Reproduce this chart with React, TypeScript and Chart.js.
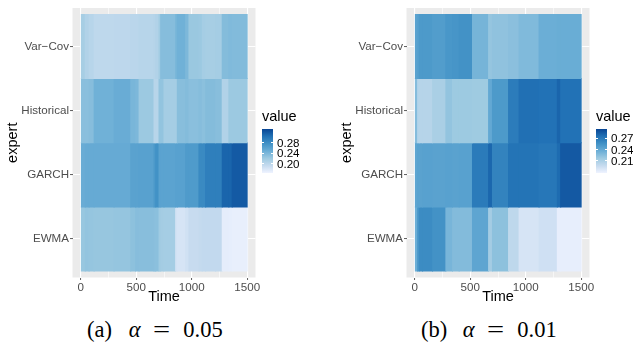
import React, { useEffect, useRef } from "react";
import { Chart, registerables } from "chart.js";

Chart.register(...registerables);

// ---------- data ----------
// row order bottom -> top (y = 1..4)
const EXPERTS = ["EWMA", "GARCH", "Historical", "Var\u2212Cov"];
const X_MAJOR = [0, 500, 1000, 1500];
const X_GRID = [0, 250, 500, 750, 1000, 1250, 1500];
const BLUES = ["#EFF3FF", "#C6DBEF", "#9ECAE1", "#6BAED6", "#4292C6", "#2171B5", "#084594"];

// (a) alpha = 0.05 : time breaks and value per segment
const BREAKS_A = [0, 40, 75, 120, 300, 450, 495, 525, 660, 675, 705, 720, 750, 855, 870, 945, 975, 1065, 1095, 1125, 1215, 1275, 1335, 1365, 1500];
const VARCOV_A = [0.216, 0.209, 0.205, 0.2, 0.201, 0.203, 0.203, 0.205, 0.206, 0.209, 0.219, 0.235, 0.235, 0.242, 0.247, 0.24, 0.224, 0.223, 0.217, 0.216, 0.217, 0.236, 0.238, 0.237];
const HIST_A = [0.233, 0.233, 0.2345, 0.247, 0.251, 0.242, 0.24, 0.223, 0.2045, 0.2045, 0.228, 0.228, 0.217, 0.217, 0.234, 0.236, 0.233, 0.235, 0.232, 0.236, 0.234, 0.209, 0.223, 0.223];
const GARCH_A = [0.251, 0.253, 0.253, 0.253, 0.253, 0.261, 0.261, 0.262, 0.27, 0.277, 0.261, 0.26, 0.26, 0.262, 0.262, 0.268, 0.268, 0.284, 0.284, 0.293, 0.293, 0.312, 0.312, 0.319];
const EWMA_A = [0.225, 0.228, 0.227, 0.226, 0.227, 0.231, 0.2345, 0.234, 0.233, 0.232, 0.221, 0.218, 0.217, 0.186, 0.184, 0.188, 0.194, 0.196, 0.197, 0.197, 0.197, 0.174, 0.173, 0.172];
const LIMITS_A = [0.167, 0.332];
const LEGEND_A = [0.2, 0.24, 0.28];

// (b) alpha = 0.01
const BREAKS_B = [0, 25, 40, 70, 160, 280, 340, 400, 520, 665, 700, 845, 940, 1120, 1285, 1315, 1500];
const VARCOV_B = [0.245, 0.247, 0.251, 0.251, 0.249, 0.253, 0.254, 0.256, 0.233, 0.221, 0.223, 0.225, 0.229, 0.237, 0.238, 0.238];
const HIST_B = [0.227, 0.207, 0.206, 0.206, 0.212, 0.222, 0.218, 0.218, 0.217, 0.241, 0.251, 0.269, 0.276, 0.275, 0.281, 0.275];
const GARCH_B = [0.243, 0.245, 0.245, 0.246, 0.245, 0.246, 0.245, 0.246, 0.27, 0.28, 0.265, 0.274, 0.274, 0.272, 0.278, 0.286];
const EWMA_B = [0.237, 0.252, 0.26, 0.26, 0.256, 0.232, 0.228, 0.228, 0.243, 0.215, 0.224, 0.202, 0.191, 0.194, 0.183, 0.183];
const LIMITS_B = [0.179, 0.295];
const LEGEND_B = [0.21, 0.24, 0.27];

// ---------- helpers ----------
const SANS = "'Liberation Sans', Arial, Helvetica, sans-serif";
const SERIF = "'Liberation Serif', 'Times New Roman', serif";

function hexRgb(h: string) {
  const n = parseInt(h.slice(1), 16);
  return [(n >> 16) & 255, (n >> 8) & 255, n & 255];
}
function bluesAt(t: number) {
  t = Math.max(0, Math.min(1, t));
  const p = t * (BLUES.length - 1);
  const i = Math.min(BLUES.length - 2, Math.floor(p));
  const f = p - i;
  const a = hexRgb(BLUES[i]);
  const b = hexRgb(BLUES[i + 1]);
  const c = a.map((v, k) => Math.round(v + (b[k] - v) * f));
  return `rgb(${c[0]},${c[1]},${c[2]})`;
}
function colorFor(v: number, lim: number[]) {
  return bluesAt((v - lim[0]) / (lim[1] - lim[0]));
}

const panelBg = {
  id: "panelBg",
  beforeDraw(chart: any) {
    const { ctx, chartArea: a } = chart;
    ctx.save();
    ctx.fillStyle = "#EBEBEB";
    ctx.fillRect(a.left, a.top, a.right - a.left, a.bottom - a.top);
    ctx.restore();
  },
};

const CW = 310; // canvas height
const PANEL_LEFT = 72.5;
const PANEL_RIGHT = 255.5;
const PANEL_TOP = 5.2;
const PANEL_BOTTOM = 277.5;

type PanelProps = {
  left: number;
  width: number;
  breaks: number[];
  rows: number[][];
  limits: number[];
  legend: number[];
  label: string;
  alpha: string;
};

function Panel({ left, width, breaks, rows, limits, legend, label, alpha }: PanelProps) {
  const ref = useRef<HTMLCanvasElement>(null);
  useEffect(() => {
    if (!ref.current) return;
    const bars: any[] = [];
    const colors: string[] = [];
    rows.forEach((vals, r) => {
      vals.forEach((v, i) => {
        bars.push({ x: [breaks[i], breaks[i + 1]], y: r + 1 });
        colors.push(colorFor(v, limits));
      });
    });
    const chart = new Chart(ref.current, {
      type: "bar",
      data: {
        datasets: [
          {
            data: bars,
            backgroundColor: colors,
            borderWidth: 0,
            inflateAmount: 0.5,
            barPercentage: 1,
            categoryPercentage: 1,
          } as any,
        ],
      },
      options: {
        indexAxis: "y",
        animation: false,
        responsive: false,
        maintainAspectRatio: false,
        events: [],
        layout: { padding: { left: 0, top: PANEL_TOP, right: width - PANEL_RIGHT, bottom: 0 } },
        plugins: { legend: { display: false }, tooltip: { enabled: false } },
        scales: {
          x: {
            type: "linear",
            min: -75,
            max: 1575,
            offset: false,
            afterBuildTicks: (s: any) => {
              s.ticks = X_GRID.map((v) => ({ value: v }));
            },
            afterFit: (s: any) => {
              s.height = CW - PANEL_BOTTOM;
            },
            border: { display: false },
            grid: {
              offset: false,
              color: "#FFFFFF",
              lineWidth: (c: any) => (X_MAJOR.includes(c.tick?.value) ? 1.1 : 0.55),
              tickColor: (c: any) => (X_MAJOR.includes(c.tick?.value) ? "#333333" : "rgba(0,0,0,0)"),
              tickLength: 2.5,
              tickWidth: 0.8,
            },
            ticks: {
              callback: (v: any) => (X_MAJOR.includes(Number(v)) ? String(v) : ""),
              color: "#4D4D4D",
              font: { family: SANS, size: 11.6 },
              padding: 1,
              maxRotation: 0,
              autoSkip: false,
            },
            title: {
              display: true,
              text: "Time",
              color: "#000000",
              font: { family: SANS, size: 14.5 },
              padding: { top: 0, bottom: 4.7 },
            },
          },
          y: {
            type: "linear",
            min: 0.4,
            max: 4.6,
            offset: false,
            afterBuildTicks: (s: any) => {
              s.ticks = [1, 2, 3, 4].map((v) => ({ value: v }));
            },
            afterFit: (s: any) => {
              s.width = PANEL_LEFT;
            },
            border: { display: false },
            grid: {
              offset: false,
              color: "#FFFFFF",
              lineWidth: 1.1,
              tickColor: "#333333",
              tickLength: 2.5,
              tickWidth: 0.8,
            },
            ticks: {
              callback: (v: any) => EXPERTS[Number(v) - 1] ?? "",
              color: "#4D4D4D",
              font: { family: SANS, size: 11.6 },
              padding: 1,
              autoSkip: false,
            },
            title: {
              display: true,
              text: "expert",
              color: "#000000",
              font: { family: SANS, size: 14.5 },
              padding: { top: 4.5, bottom: 0 },
            },
          },
        },
      } as any,
      plugins: [panelBg],
    });
    return () => chart.destroy();
  }, []);

  const barTop = 128.5;
  const barH = 44;
  const barLeft = 262;
  const yFor = (v: number) => barTop + ((limits[1] - v) / (limits[1] - limits[0])) * barH;
  const grad = `linear-gradient(to top, ${BLUES.join(", ")})`;

  return (
    <div style={{ position: "absolute", left, top: 0, width, height: 349 }}>
      <canvas ref={ref} width={width} height={CW} style={{ position: "absolute", left: 0, top: 0, width, height: CW }} />
      {/* colour bar legend */}
      <div style={{ position: "absolute", left: barLeft, top: 108.7, fontFamily: SANS, fontSize: 14.5, lineHeight: "14.5px", color: "#000", whiteSpace: "nowrap" }}>value</div>
      <div style={{ position: "absolute", left: barLeft, top: barTop, width: 10.5, height: barH, background: grad }} />
      {legend.map((b) => (
        <React.Fragment key={b}>
          <div style={{ position: "absolute", left: barLeft, top: yFor(b) - 0.4, width: 2, height: 0.8, background: "#fff" }} />
          <div style={{ position: "absolute", left: barLeft + 8.5, top: yFor(b) - 0.4, width: 2, height: 0.8, background: "#fff" }} />
          <div style={{ position: "absolute", left: barLeft + 15, top: yFor(b) - 5.8, fontFamily: SANS, fontSize: 11.6, lineHeight: "11.6px", color: "#000", whiteSpace: "nowrap" }}>
            {b.toFixed(2)}
          </div>
        </React.Fragment>
      ))}
      {/* caption */}
      <div style={{ position: "absolute", top: 318.6, left: 0, width, height: 24, fontFamily: SERIF, fontSize: 22.5, lineHeight: "22px", color: "#000", whiteSpace: "nowrap" }}>
        <span style={{ position: "absolute", left: 87 }}>{label}</span>
        <span style={{ position: "absolute", left: 128.7, fontStyle: "italic" }}>α</span>
        <span style={{ position: "absolute", left: 152.5, display: "inline-block", transform: "scaleX(1.35)", transformOrigin: "left center" }}>=</span>
        <span style={{ position: "absolute", left: 183.3 }}>{alpha}</span>
      </div>
    </div>
  );
}

export default function App() {
  return (
    <div style={{ position: "absolute", left: 0, top: 0, width: 633, height: 349, overflow: "hidden", background: "#fff" }}>
      <Panel left={0} width={333} breaks={BREAKS_A} rows={[EWMA_A, GARCH_A, HIST_A, VARCOV_A]} limits={LIMITS_A} legend={LEGEND_A} label="(a)" alpha="0.05" />
      <Panel left={334} width={299} breaks={BREAKS_B} rows={[EWMA_B, GARCH_B, HIST_B, VARCOV_B]} limits={LIMITS_B} legend={LEGEND_B} label="(b)" alpha="0.01" />
    </div>
  );
}
